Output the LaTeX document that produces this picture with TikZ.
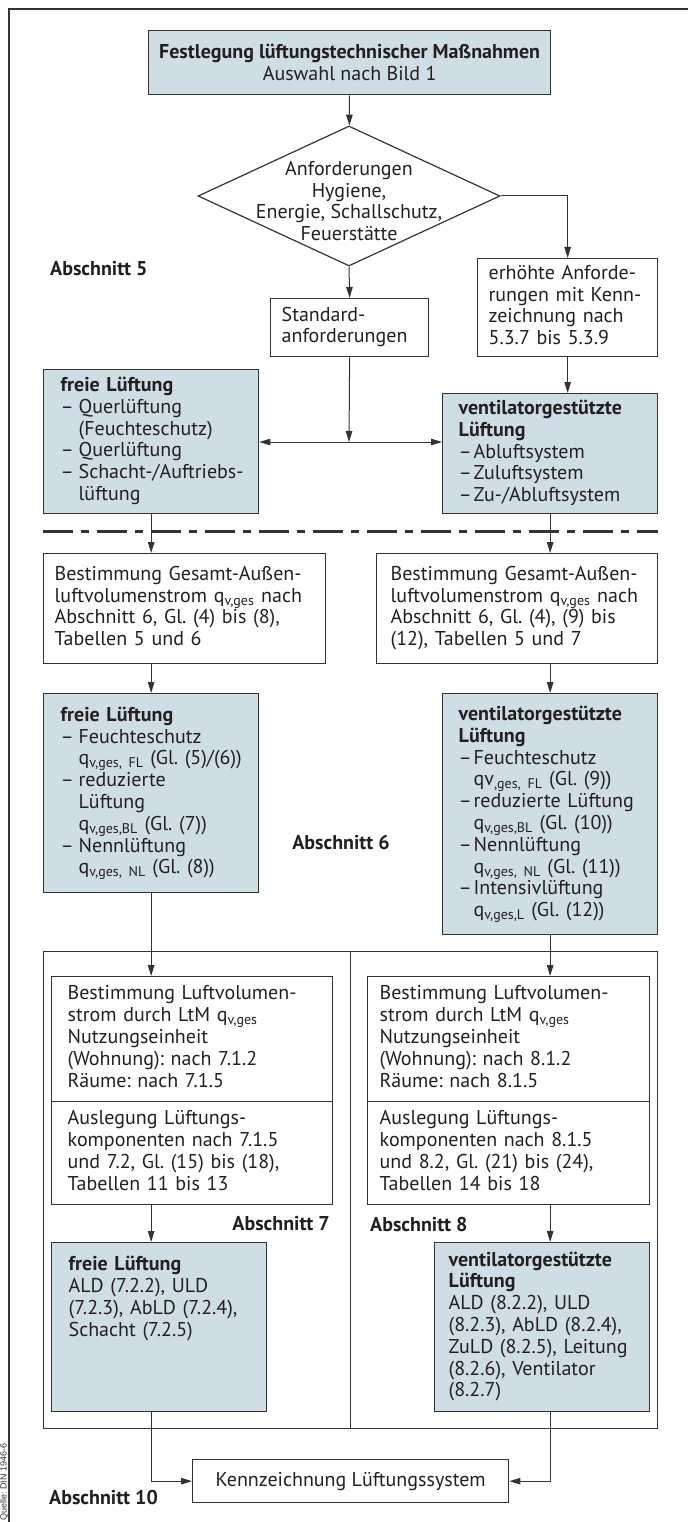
\documentclass[tikz,border=0pt]{standalone}
\usepackage{fontspec}
\setmainfont{PT Sans}
\newfontfamily\sourcefont{Liberation Sans}
\usetikzlibrary{shapes.geometric, arrows.meta, positioning, calc}
\definecolor{BoxBlue}{HTML}{CFDDE5}
\definecolor{LineGray}{HTML}{333333}
\definecolor{TextBlack}{HTML}{231F20}
\newcommand{\dashitem}[1][18pt]{\makebox[#1][l]{–}}
\newcommand{\dashcont}[1][18pt]{\hspace*{#1}}
\newcommand{\boxlines}[1]{\begin{tabular}[t]{@{}l@{}}#1\end{tabular}}
\frenchspacing

\begin{document}
\begin{tikzpicture}[
    x=1pt, y=-1pt,
    >={Triangle[length=11pt, width=6.5pt]},
    every node/.style={font=\fontsize{20}{21.8}\selectfont, text=TextBlack},
    box/.style={draw=LineGray, line width=1.3pt, rectangle, anchor=north west, inner ysep=0pt, inner xsep=11pt, align=left},
    blueBox/.style={box, fill=BoxBlue, inner xsep=17pt},
    frame/.style={draw=LineGray, line width=1.3pt},
    conn/.style={draw=LineGray, line width=1pt},
    secLabel/.style={inner sep=0pt, font=\fontsize{20}{21.8}\selectfont\bfseries},
  ]
  \useasboundingbox (0,0) rectangle (688,1522);
  \draw[frame] (9,1522) -- (9,9) -- (688,9);
  \node[font=\sourcefont\fontsize{9}{10}\selectfont, text=LineGray, rotate=90, anchor=base west, inner sep=0pt] (quelle) at (6.5,1521) {Quelle: DIN 1946-6};

  % Abschnitt 5
  \node[blueBox, minimum width=402pt, minimum height=64pt, align=center, inner xsep=0pt] (top) at (148,30) {\textbf{Festlegung lüftungstechnischer Maßnahmen}\\Auswahl nach Bild 1};
  \node[diamond, draw=LineGray, line width=1.2pt, minimum width=302pt, minimum height=140pt, inner sep=0pt] (anf) at (349,196) {};
  \node[align=center] (anfText) at ([yshift=-5pt]anf.center) {Anforderungen\\Hygiene,\\Energie, Schallschutz,\\Feuerstätte};
  \node[secLabel, anchor=west] (ab5) at (50,269) {Abschnitt 5};
  \node[box, minimum width=158pt, minimum height=58pt, text width=136pt] (std) at (270,298) {\boxlines{Standard-\\anforderungen}};
  \node[box, minimum width=180pt, minimum height=98pt, text width=158pt] (erh) at (477,258) {\boxlines{erhöhte Anforde-\\rungen mit Kenn-\\zeichnung nach\\5.3.7 bis 5.3.9}};
  \node[blueBox, minimum width=215pt, minimum height=144pt, text width=181pt] (frei1) at (43,369) {\boxlines{\textbf{freie Lüftung}\\\dashitem Querlüftung\\\dashcont(Feuchteschutz)\\\dashitem Querlüftung\\\dashitem Schacht-/Auftriebs-\\\dashcont lüftung}};
  \node[blueBox, inner xsep=16pt, minimum width=215pt, minimum height=120pt, text width=183pt] (vent1) at (442,393) {\boxlines{\textbf{ventilatorgestützte}\\\textbf{Lüftung}\\\dashitem[15pt]Abluftsystem\\\dashitem[15pt]Zuluftsystem\\\dashitem[15pt]Zu-/Abluftsystem}};
  \coordinate (mid) at (349,442);
  \draw[conn, ->] (top) -- (anf);
  \draw[conn, ->] (anf.east) -| (erh.north);
  \draw[conn, ->] (anf.south) -- (std.north);
  \draw[conn, ->] (std.south) -- (mid);
  \draw[conn, <->] (frei1.east |- mid) -- (vent1.west |- mid);
  \draw[conn, ->] (erh.south) -- (erh.south |- vent1.north);

  % separator
  \coordinate (sepL) at (43,531);
  \coordinate (sepR) at (658,531);
  \draw[LineGray, line width=3pt, dash pattern=on 30pt off 8pt on 8pt off 8pt] (sepL) -- (sepR);

  % Abschnitt 6
  \node[box, minimum width=282pt, minimum height=110pt, text width=260pt] (bestL) at (43,553) {\boxlines{Bestimmung Gesamt-Außen-\\luftvolumenstrom q\textsubscript{v,ges} nach\\Abschnitt 6, Gl. (4) bis (8),\\Tabellen 5 und 6}};
  \node[box, inner xsep=14pt, minimum width=281pt, minimum height=110pt, text width=253pt] (bestR) at (376,553) {\boxlines{Bestimmung Gesamt-Außen-\\luftvolumenstrom q\textsubscript{v,ges} nach\\Abschnitt 6, Gl. (4), (9) bis\\(12), Tabellen 5 und 7}};
  \draw[conn, ->] (frei1.south) -- (frei1.south |- bestL.north);
  \draw[conn, ->] (vent1.south) -- (vent1.south |- bestR.north);
  \node[blueBox, minimum width=215pt, minimum height=199pt, text width=181pt] (frei2) at (43,693) {\boxlines{\textbf{freie Lüftung}\\\dashitem Feuchteschutz\\\dashcont q\textsubscript{v,ges, FL} (Gl. (5)/(6))\\\dashitem reduzierte\\\dashcont Lüftung\\\dashcont q\textsubscript{v,ges,BL} (Gl. (7))\\\dashitem Nennlüftung\\\dashcont q\textsubscript{v,ges, NL} (Gl. (8))}};
  \node[blueBox, inner xsep=16pt, minimum width=215pt, minimum height=241pt, text width=183pt] (vent2) at (442,693) {\boxlines{\textbf{ventilatorgestützte}\\\textbf{Lüftung}\\\dashitem[15pt]Feuchteschutz\\\dashcont[15pt]qv\textsubscript{,ges, FL} (Gl. (9))\\\dashitem[15pt]reduzierte Lüftung\\\dashcont[15pt]q\textsubscript{v,ges,BL} (Gl. (10))\\\dashitem[15pt]Nennlüftung\\\dashcont[15pt]q\textsubscript{v,ges, NL} (Gl. (11))\\\dashitem[15pt]Intensivlüftung\\\dashcont[15pt]q\textsubscript{v,ges,L} (Gl. (12))}};
  \draw[conn, ->] (bestL.south -| frei2.north) -- (frei2.north);
  \draw[conn, ->] (bestR.south -| vent2.north) -- (vent2.north);
  \node[secLabel] (ab6) at (341,842) {Abschnitt 6};

  % Abschnitt 7 und 8
  \node[frame, rectangle, anchor=north west, minimum width=614pt, minimum height=477pt, inner sep=0pt] (big) at (43,951) {};
  \draw[frame] (big.north) -- (big.south);
  \node[box, inner xsep=16pt, minimum width=281pt, minimum height=125pt, text width=249pt] (bL1) at (51,976) {\boxlines{Bestimmung Luftvolumen-\\strom durch LtM q\textsubscript{v,ges}\\Nutzungseinheit\\(Wohnung): nach 7.1.2\\Räume: nach 7.1.5}};
  \node[box, inner xsep=16pt, minimum width=281pt, minimum height=103pt, text width=249pt] (bL2) at (51,1101) {\boxlines{Auslegung Lüftungs-\\komponenten nach 7.1.5\\und 7.2, Gl. (15) bis (18),\\Tabellen 11 bis 13}};
  \node[box, inner xsep=12pt, minimum width=282pt, minimum height=125pt, text width=258pt] (bR1) at (367,976) {\boxlines{Bestimmung Luftvolumen-\\strom durch LtM q\textsubscript{v,ges}\\Nutzungseinheit\\(Wohnung): nach 8.1.2\\Räume: nach 8.1.5}};
  \node[box, inner xsep=12pt, minimum width=282pt, minimum height=103pt, text width=258pt] (bR2) at (367,1101) {\boxlines{Auslegung Lüftungs-\\komponenten nach 8.1.5\\und 8.2, Gl. (21) bis (24),\\Tabellen 14 bis 18}};
  \draw[conn, ->] (frei2.south) -- (frei2.south |- bL1.north);
  \draw[conn, ->] (vent2.south) -- (vent2.south |- bR1.north);
  \node[secLabel, anchor=east] (ab7) at (330,1224) {Abschnitt 7};
  \node[secLabel, anchor=west] (ab8) at (370,1224) {Abschnitt 8};
  \node[blueBox, minimum width=215pt, text width=181pt, text height=28pt, text depth=141pt] (frei3) at (51,1242) {\boxlines{\textbf{freie Lüftung}\\ALD (7.2.2), ULD\\(7.2.3), AbLD (7.2.4),\\Schacht (7.2.5)}};
  \node[blueBox, inner xsep=14pt, minimum width=215pt, minimum height=169pt, text width=187pt] (vent3) at (434,1242) {\boxlines{\textbf{ventilatorgestützte}\\\textbf{Lüftung}\\ALD (8.2.2), ULD\\(8.2.3), AbLD (8.2.4),\\ZuLD (8.2.5), Leitung\\(8.2.6), Ventilator\\(8.2.7)}};
  \draw[conn, ->] (bL2.south -| frei2.south) -- (frei3.north -| frei2.south);
  \draw[conn, ->] (bR2.south -| vent2.south) -- (vent3.north -| vent2.south);

  % Abschnitt 10
  \node[box, minimum width=316pt, minimum height=43pt, align=center] (kenn) at (192,1459) {Kennzeichnung Lüftungssystem};
  \node[secLabel, anchor=west] (ab10) at (49,1497) {Abschnitt 10};
  \draw[conn, ->] (frei3.south -| frei2.south) |- (kenn.west);
  \draw[conn, ->] (vent3.south -| vent2.south) |- (kenn.east);
\end{tikzpicture}
\end{document}
